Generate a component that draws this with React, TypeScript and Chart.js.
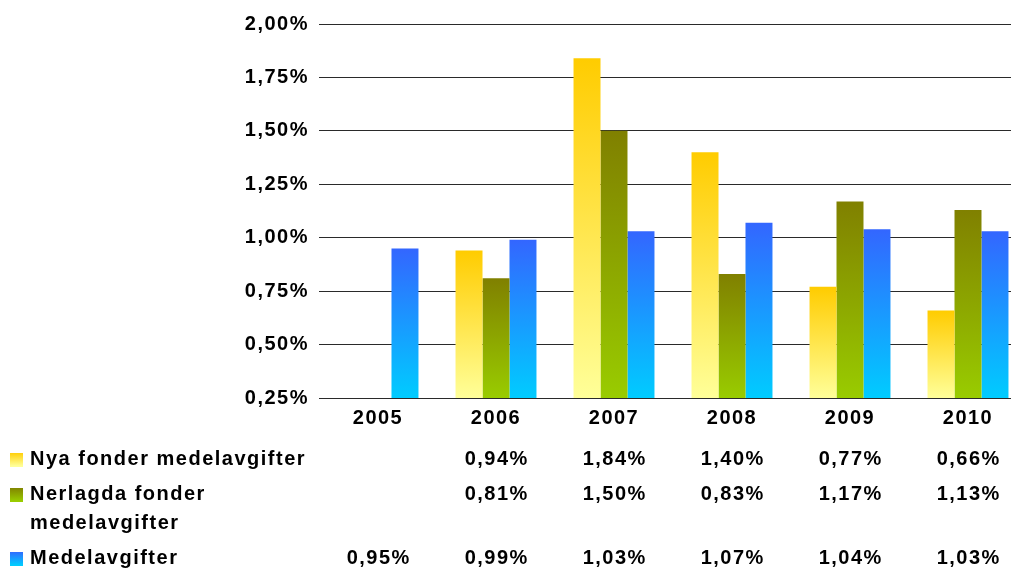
import { useEffect, useRef } from 'react';
import { Chart, registerables } from 'chart.js';

Chart.register(...registerables);

// Fee data per year (percent)
const years = ['2005', '2006', '2007', '2008', '2009', '2010'];
const nyaFonder: (number | null)[] = [null, 0.94, 1.84, 1.4, 0.77, 0.66];
const nerlagdaFonder: (number | null)[] = [null, 0.81, 1.5, 0.83, 1.17, 1.13];
const medelavgifter: (number | null)[] = [0.95, 0.99, 1.03, 1.07, 1.04, 1.03];

const yTicks = [0.25, 0.5, 0.75, 1.0, 1.25, 1.5, 1.75, 2.0];

const seriesLabels = [
  ['Nya fonder medelavgifter'],
  ['Nerlagda fonder', 'medelavgifter'],
  ['Medelavgifter'],
];

// top colour, bottom colour of each series' gradient
const seriesColors: [string, string][] = [
  ['#FFCC00', '#FFFF99'],
  ['#808000', '#99CC00'],
  ['#3366FF', '#00CCFF'],
];

const FONT_FAMILY = '"Liberation Sans", Arial, sans-serif';
const FONT_SIZE = 20;
const FONT = `bold ${FONT_SIZE}px ${FONT_FAMILY}`;
const SPACING = 1.5;

const fmt = (v: number) => v.toFixed(2).replace('.', ',') + '%';

const barGradient = (top: string, bottom: string) => (ctx: any) => {
  const chart = ctx.chart;
  const area = chart.chartArea;
  if (!area || ctx.type !== 'data' || ctx.raw == null || !chart.scales.y) return top;
  const y = chart.scales.y.getPixelForValue(ctx.raw);
  const g = chart.ctx.createLinearGradient(0, y, 0, area.bottom);
  g.addColorStop(0, top);
  g.addColorStop(1, bottom);
  return g;
};

const spacingPlugin = {
  id: 'letterSpacing',
  beforeUpdate(chart: any) {
    chart.ctx.letterSpacing = `${SPACING}px`;
  },
  beforeDraw(chart: any) {
    chart.ctx.letterSpacing = `${SPACING}px`;
  },
};

// Legend keys with the value table under the x axis
const dataTablePlugin = {
  id: 'dataTable',
  afterDraw(chart: any) {
    const ctx = chart.ctx as CanvasRenderingContext2D;
    const xs = chart.scales.x;
    const rowY = [459, 494, 558];
    const series = [nyaFonder, nerlagdaFonder, medelavgifter];
    ctx.save();
    (ctx as any).letterSpacing = `${SPACING}px`;
    ctx.font = FONT;
    ctx.fillStyle = '#000';
    ctx.textBaseline = 'middle';
    series.forEach((vals, r) => {
      const y = rowY[r];
      const [top, bottom] = seriesColors[r];
      const g = ctx.createLinearGradient(0, y - 7, 0, y + 7);
      g.addColorStop(0, top);
      g.addColorStop(1, bottom);
      ctx.fillStyle = g;
      ctx.fillRect(10, y - 6, 13, 14);
      ctx.fillStyle = '#000';
      ctx.textAlign = 'left';
      seriesLabels[r].forEach((line, li) => {
        ctx.fillText(line, 30, y + li * 29);
      });
      ctx.textAlign = 'center';
      vals.forEach((v, i) => {
        if (v == null) return;
        ctx.fillText(fmt(v), xs.getPixelForValue(i) + SPACING / 2, y);
      });
    });
    ctx.restore();
  },
};

export default function App() {
  const canvasRef = useRef<HTMLCanvasElement | null>(null);

  useEffect(() => {
    if (!canvasRef.current) return;
    const datasets = [nyaFonder, nerlagdaFonder, medelavgifter].map((data, i) => ({
      label: seriesLabels[i].join(' '),
      data,
      backgroundColor: barGradient(seriesColors[i][0], seriesColors[i][1]),
      borderWidth: 0,
      categoryPercentage: 0.686,
      barPercentage: 1.0,
    }));
    const chart = new Chart(canvasRef.current, {
      type: 'bar',
      data: { labels: years, datasets },
      plugins: [spacingPlugin, dataTablePlugin],
      options: {
        responsive: false,
        animation: false,
        layout: { padding: { top: 24, right: 3, left: 0, bottom: 0 } },
        plugins: {
          legend: { display: false },
          tooltip: { enabled: false },
        },
        scales: {
          x: {
            grid: { display: false, drawTicks: false },
            border: { display: false },
            ticks: {
              color: '#000',
              font: { family: FONT_FAMILY, size: FONT_SIZE, weight: 'bold' },
              padding: 8,
            },
            afterFit(scale: any) {
              scale.height = 174;
              scale.paddingLeft = 0;
              scale.paddingRight = 0;
            },
          },
          y: {
            min: 0.25,
            max: 2.0,
            grid: { color: '#2a2a2a', lineWidth: 1, drawTicks: false },
            border: { display: false },
            afterBuildTicks(scale: any) {
              scale.ticks = yTicks.map((value) => ({ value }));
            },
            ticks: {
              color: '#000',
              font: { family: FONT_FAMILY, size: FONT_SIZE, weight: 'bold' },
              padding: 10,
              callback: (v: any) => fmt(Number(v)),
            },
            afterFit(scale: any) {
              scale.width = 319;
              scale.paddingTop = 0;
              scale.paddingBottom = 0;
            },
          },
        },
      } as any,
    });
    return () => chart.destroy();
  }, []);

  return (
    <div
      style={{
        position: 'fixed',
        left: 0,
        top: 0,
        width: 1011,
        height: 572,
        overflow: 'hidden',
        background: '#fff',
      }}
    >
      <canvas ref={canvasRef} width={1030} height={572} style={{ display: 'block' }} />
    </div>
  );
}
